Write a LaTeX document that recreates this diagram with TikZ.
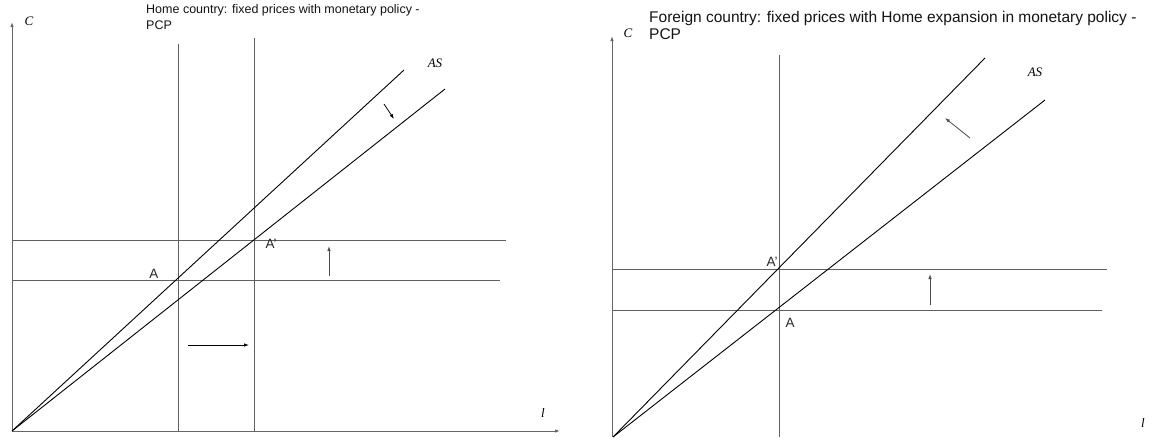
\documentclass[tikz,border=0pt]{standalone}
\usepackage{fontspec}
\setmainfont{Liberation Sans}
\newfontfamily\timesfont{Liberation Serif}
\usetikzlibrary{arrows.meta, positioning, calc}

\begin{document}
\begin{tikzpicture}[x=1pt, y=-1pt, every node/.style={inner sep=0pt}]
        \tikzset{
          axis/.style={draw=gray!80!black, line width=0.9pt,
                 -{Latex[length=5pt, width=3.5pt]}},
          guide/.style={draw=gray!75!black, line width=0.9pt},
          asline/.style={draw=black, line width=0.9pt},
          shiftarr/.style={draw=gray!60!black, line width=0.8pt,
                 -{Latex[length=5pt, width=3.5pt]}},
          varlab/.style={font=\fontsize{13}{13}\timesfont\itshape},
          ptlab/.style={font=\fontsize{13.5}{13.5}\selectfont, text=gray!30!black},
          titlelab/.style={anchor=north west, align=left, text=gray!15!black}
        }
        \useasboundingbox (0,0) rectangle (1152,437);
        % Home country
        \coordinate (hO)    at (12,431);
        \coordinate (hYtop) at (12,22);
        \coordinate (hXend) at (560,431);
        \coordinate (hV1t)  at (178,44);
        \coordinate (hV1b)  at (178,431);
        \coordinate (hV2t)  at (254,38);
        \coordinate (hV2b)  at (254,431);
        \coordinate (hH1l)  at (12,240);
        \coordinate (hH1r)  at (506,240);
        \coordinate (hH2l)  at (12,280);
        \coordinate (hH2r)  at (500,280);
        \coordinate (hAS1)  at (404,70);
        \coordinate (hAS2)  at (445,89);
        \draw[axis] (hO) -- (hYtop);
        \draw[axis] (hO) -- (hXend);
        \draw[guide] (hV1t) -- (hV1b);
        \draw[guide] (hV2t) -- (hV2b);
        \draw[guide] (hH1l) -- (hH1r);
        \draw[guide] (hH2l) -- (hH2r);
        \draw[asline] (hO) -- (hAS1);
        \draw[asline] (hO) -- (hAS2);
        \node[varlab] (hC)  at (29,21)  {C};
        \node[varlab] (hl)  at (543,413) {l};
        \node[varlab] (hAS) at (435,63) {AS};
        \node[ptlab]  (hA)  at (154,274) {A};
        \node[ptlab]  (hA2) at (271,244) {A'};
        \node[titlelab, font=\fontsize{12.5}{16}\selectfont] (htitle) at (146,4)
          {Home country: fixed prices with monetary policy -\\PCP};
        \coordinate (hd1) at (384,104);
        \coordinate (hd2) at (394,119);
        \coordinate (hu1) at (329,276);
        \coordinate (hu2) at (329,246);
        \coordinate (hr1) at (188,345);
        \coordinate (hr2) at (249,345);
        \draw[shiftarr, draw=black] (hd1) -- (hd2);
        \draw[shiftarr] (hu1) -- (hu2);
        \draw[shiftarr, draw=black] (hr1) -- (hr2);
        % Foreign country
        \coordinate (fO)    at (613,437);
        \coordinate (fYb)   at (612,437);
        \coordinate (fYtop) at (612,36);
        \coordinate (fVt)   at (779,55);
        \coordinate (fVb)   at (779,437);
        \coordinate (fH1l)  at (612,269);
        \coordinate (fH1r)  at (1107,269);
        \coordinate (fH2l)  at (612,310);
        \coordinate (fH2r)  at (1102,310);
        \coordinate (fAS1)  at (985,58);
        \coordinate (fAS2)  at (1045,100);
        \draw[axis] (fYb) -- (fYtop);
        \draw[guide] (fVt) -- (fVb);
        \draw[guide] (fH1l) -- (fH1r);
        \draw[guide] (fH2l) -- (fH2r);
        \draw[asline] (fO) -- (fAS1);
        \draw[asline] (fO) -- (fAS2);
        \node[varlab] (fC)  at (628,33)  {C};
        \node[varlab] (fl)  at (1143,423) {l};
        \node[varlab] (fAS) at (1035,72) {AS};
        \node[ptlab]  (fA2) at (772,262) {A'};
        \node[ptlab]  (fA)  at (790,323) {A};
        \node[titlelab, font=\fontsize{15.5}{17}\selectfont] (ftitle) at (649,11)
          {Foreign country: fixed prices with Home expansion in monetary policy -\\PCP};
        \coordinate (fd1) at (970,138);
        \coordinate (fd2) at (945,118);
        \coordinate (fu1) at (930,305);
        \coordinate (fu2) at (930,274);
        \draw[shiftarr] (fd1) -- (fd2);
        \draw[shiftarr] (fu1) -- (fu2);
\end{tikzpicture}
\end{document}
